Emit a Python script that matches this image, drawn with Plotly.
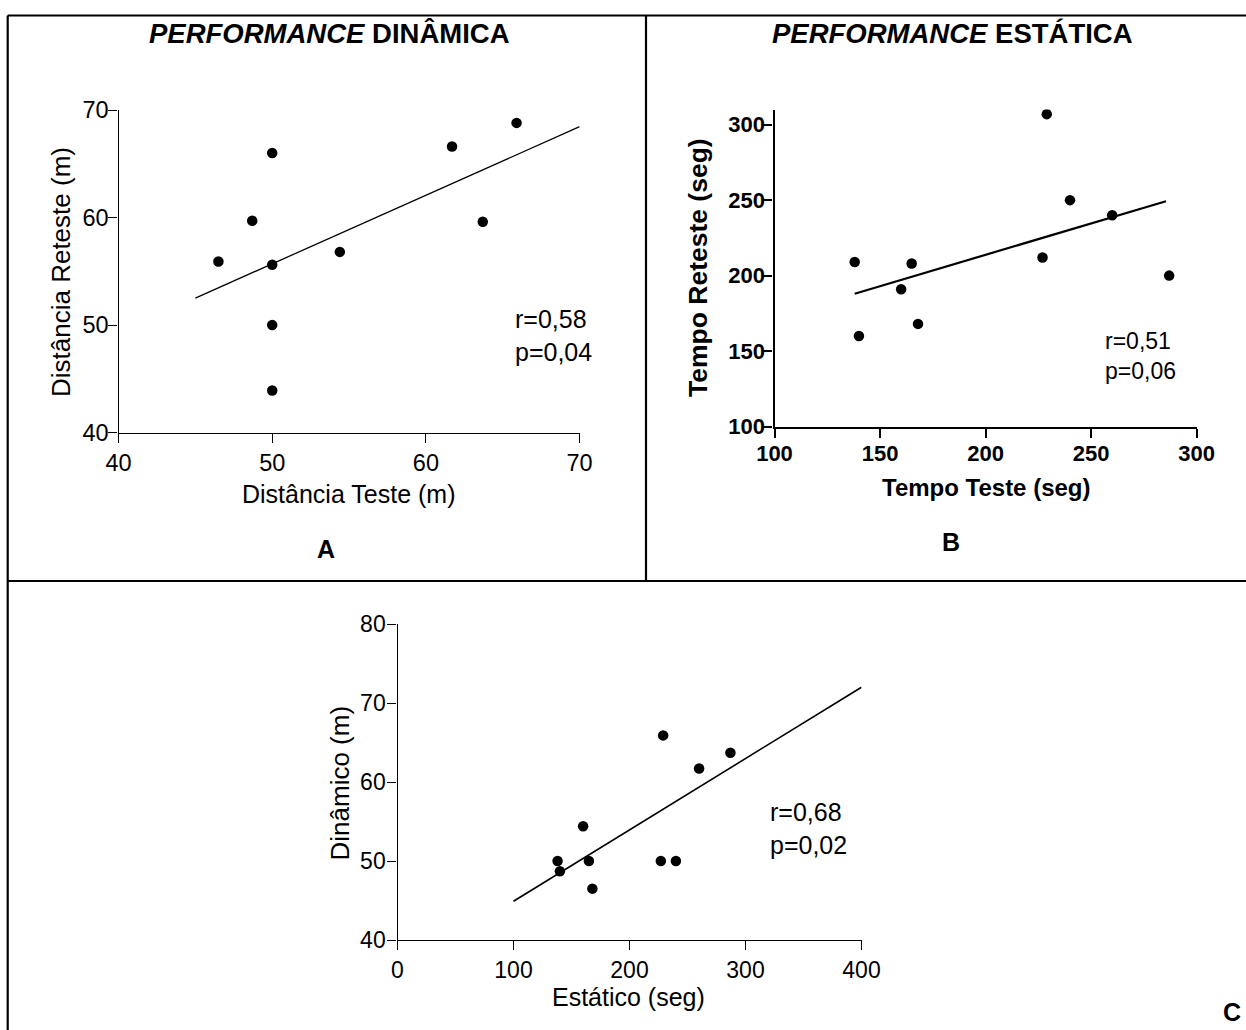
import plotly.graph_objects as go

# ---------------- data ----------------
# Panel A: dynamic performance (distance, m)
dyn_test = [46.5, 48.7, 50.0, 50.0, 50.0, 50.0, 54.4, 61.7, 63.7, 65.9]
dyn_retest = [55.9, 59.7, 66.0, 55.6, 50.0, 43.9, 56.8, 66.6, 59.6, 68.8]
fitA_x = [45.0, 70.0]
fitA_y = [52.5, 68.45]

# Panel B: static performance (time, s)
stat_test = [138, 140, 160, 165, 168, 227, 229, 240, 260, 287]
stat_retest = [209, 160, 191, 208, 168, 212, 307, 250, 240, 200]
fitB_x = [138.0, 285.5]
fitB_y = [188.0, 249.3]

# Panel C: static vs dynamic
c_static = [138, 140, 160, 165, 168, 227, 229, 240, 260, 287]
c_dynamic = [50.0, 48.7, 54.4, 50.0, 46.5, 50.0, 65.9, 50.0, 61.7, 63.7]
fitC_x = [100.0, 400.0]
fitC_y = [44.9, 72.0]

ticksA = [40, 50, 60, 70]
ticksB = [100, 150, 200, 250, 300]
ticksC_x = [0, 100, 200, 300, 400]
ticksC_y = [40, 50, 60, 70, 80]

stats_A = "r=0,58<br>p=0,04"
stats_B = "r=0,51<br>p=0,06"
stats_C = "r=0,68<br>p=0,02"

# ---------------- layout helpers ----------------
W, H = 1246, 1030
FONT = "Liberation Sans, Arial, Helvetica, sans-serif"


def px(x):
    return x / W


def py(y):
    return 1 - y / H


fig = go.Figure()

fig.add_trace(go.Scatter(x=dyn_test, y=dyn_retest, mode="markers",
                         marker=dict(color="black", size=10.5),
                         xaxis="x", yaxis="y", showlegend=False))
fig.add_trace(go.Scatter(x=fitA_x, y=fitA_y, mode="lines",
                         line=dict(color="black", width=1.3),
                         xaxis="x", yaxis="y", showlegend=False))
fig.add_trace(go.Scatter(x=stat_test, y=stat_retest, mode="markers",
                         marker=dict(color="black", size=10.5),
                         xaxis="x2", yaxis="y2", showlegend=False))
fig.add_trace(go.Scatter(x=fitB_x, y=fitB_y, mode="lines",
                         line=dict(color="black", width=2.2),
                         xaxis="x2", yaxis="y2", showlegend=False))
fig.add_trace(go.Scatter(x=c_static, y=c_dynamic, mode="markers",
                         marker=dict(color="black", size=10.5),
                         xaxis="x3", yaxis="y3", showlegend=False))
fig.add_trace(go.Scatter(x=fitC_x, y=fitC_y, mode="lines",
                         line=dict(color="black", width=1.6),
                         xaxis="x3", yaxis="y3", showlegend=False))


def axis(domain, rng, tickvals, lw, fsize, bold=False, anchor=None, standoff=0):
    return dict(domain=domain, range=rng, tickvals=tickvals,
                showgrid=False, zeroline=False, showline=True,
                linecolor="black", linewidth=lw, ticks="outside",
                ticklen=9, tickwidth=lw, tickcolor="black",
                ticklabelstandoff=standoff,
                tickfont=dict(family=FONT, size=fsize, color="black",
                              weight="bold" if bold else "normal"),
                anchor=anchor, fixedrange=True, automargin=False)


fig.update_layout(
    width=W, height=H, autosize=False,
    margin=dict(l=0, r=0, t=0, b=0, pad=0),
    paper_bgcolor="white", plot_bgcolor="white",
    xaxis=axis([px(118.5), px(579.6)], [40, 70], ticksA, 1.2, 23.5, anchor="y"),
    yaxis=axis([py(432.5), py(110)], [40, 70], ticksA, 1.2, 23.5, anchor="x", standoff=-5),
    xaxis2=axis([px(774.5), px(1196.6)], [100, 300], ticksB, 2.2, 22, True, anchor="y2", standoff=-3),
    yaxis2=axis([py(426.5), py(109.6)], [100, 310], ticksB, 2.2, 22, True, anchor="x2", standoff=-6),
    xaxis3=axis([px(397.5), px(861.5)], [0, 400], ticksC_x, 1.4, 23, anchor="y3"),
    yaxis3=axis([py(940), py(624)], [40, 80], ticksC_y, 1.4, 23, anchor="x3", standoff=-3),
)


def ann(text, x, y, size, bold=False, angle=0, xanchor="center", align="center"):
    fig.add_annotation(text=text, x=px(x), y=py(y), xref="paper", yref="paper",
                       showarrow=False, textangle=angle, xanchor=xanchor,
                       yanchor="middle", align=align,
                       font=dict(family=FONT, size=size, color="black",
                                 weight="bold" if bold else "normal"))


# Titles
ann("<i>PERFORMANCE</i> DINÂMICA", 329, 33, 27.5, bold=True)
ann("<i>PERFORMANCE</i> ESTÁTICA", 952, 33, 27.5, bold=True)

# Axis titles
ann("Distância Teste (m)", 349, 494, 25)
ann("Distância Reteste (m)", 61, 272, 26, angle=-90)
ann("Tempo Teste (seg)", 986, 488, 24, bold=True)
ann("Tempo Reteste (seg)", 698, 268, 26.5, bold=True, angle=-90)
ann("Estático (seg)", 628, 997, 25)
ann("Dinâmico (m)", 339.5, 783, 26, angle=-90)

# Stats
ann(stats_A, 513, 335.5, 25, xanchor="left", align="left")
ann(stats_B, 1103, 355.5, 23, xanchor="left", align="left")
ann(stats_C, 768, 828, 25, xanchor="left", align="left")

# Panel letters
ann("A", 326, 549, 25, bold=True)
ann("B", 951, 542, 25, bold=True)
ann("C", 1232, 1012, 25, bold=True)

# Frame lines
frame = [
    (7.7, 15.5, W, 15.5),      # top
    (7.7, 15.5, 7.7, H),       # left
    (646, 15.5, 646, 581),     # vertical divider
    (7.7, 581, W, 581),        # horizontal divider
]
for x0, y0, x1, y1 in frame:
    fig.add_shape(type="line", xref="paper", yref="paper",
                  x0=px(x0), y0=py(y0), x1=px(x1), y1=py(y1),
                  line=dict(color="black", width=2.2))

fig.write_html("out.html", post_script="document.body.style.margin='0';",
               config={"displayModeBar": False})
